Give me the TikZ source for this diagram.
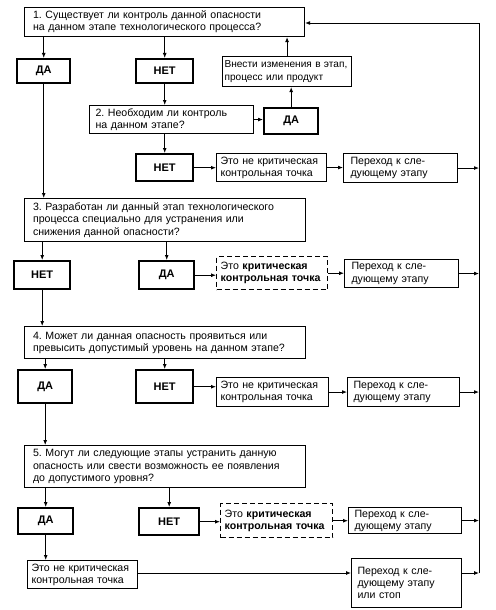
\documentclass[tikz,border=0pt]{standalone}
\usepackage{fontspec}
\setmainfont{Liberation Sans}
\usetikzlibrary{arrows.meta}
\frenchspacing
\begin{document}
\begin{tikzpicture}[x=1pt,y=-1pt,
  every node/.style={font=\fontsize{10.6}{12.2}\selectfont},
  lbox/.style={draw, line width=1.1pt, anchor=north west, align=left, inner xsep=5pt, inner ysep=0pt},
  qbox/.style={lbox, inner xsep=8.5pt},
  dbox/.style={lbox, dash pattern=on 5pt off 3pt, line width=1.4pt},
  tbox/.style={draw, line width=2.4pt, anchor=north west, align=center, inner sep=0pt, font=\fontsize{11}{12.5}\selectfont\bfseries},
  arr/.style={line width=0.9pt, -{Latex[length=5pt,width=4pt]}},
]
\useasboundingbox (0,0) rectangle (495,610);
% row 1
\node[qbox, minimum width=280pt, minimum height=29pt, text width=263pt] (b1) at (24,7) {1. Существует ли контроль данной опасности\\на данном этапе технологического процесса?};
\node[tbox, minimum width=53pt, minimum height=24pt] (da1) at (16,58) {ДА};
\node[tbox, minimum width=57pt, minimum height=24pt] (net1) at (135,58) {НЕТ};
\node[lbox, minimum width=129pt, minimum height=30pt, text width=125pt, inner xsep=2pt, font=\fontsize{10.1}{12.2}\selectfont] (vn) at (222,56) {\mbox{Внести изменения в этап,}\\процесс или продукт};
\node[lbox, minimum width=164pt, minimum height=28pt, text width=152pt, inner xsep=6pt] (b2) at (89,105) {2. Необходим ли контроль\\на данном этапе?};
\node[tbox, minimum width=54pt, minimum height=26pt] (da2) at (263,107) {ДА};
\node[tbox, minimum width=57pt, minimum height=27pt] (net2) at (135,153) {НЕТ};
\node[lbox, minimum width=110pt, minimum height=28pt, text width=102pt, inner xsep=4pt] (ne1) at (216,153) {Это не критическая\\контрольная точка};
\node[lbox, minimum width=114pt, minimum height=29pt, text width=100pt, inner xsep=7pt] (p1) at (343,153) {Переход к сле-\\дующему этапу};
% row 3
\node[qbox, minimum width=281pt, minimum height=43pt, text width=264pt] (b3) at (24,198) {3. Разработан ли данный этап технологического\\процесса специально для устранения или\\снижения данной опасности?};
\node[tbox, minimum width=56pt, minimum height=28pt] (net3) at (13,260) {НЕТ};
\node[tbox, minimum width=55pt, minimum height=28pt] (da3) at (138,260) {ДА};
\node[dbox, minimum width=111pt, minimum height=33pt, text width=103pt, inner xsep=4pt] (cr1) at (216,256) {Это \textbf{критическая}\\\textbf{контрольная точка}};
\node[lbox, minimum width=114pt, minimum height=28pt, text width=100pt, inner xsep=7pt] (p2) at (344,259) {Переход к сле-\\дующему этапу};
% row 4
\node[qbox, minimum width=281pt, minimum height=32pt, text width=264pt] (b4) at (24,326) {4. Может ли данная опасность проявиться или\\превысить допустимый уровень на данном этапе?};
\node[tbox, minimum width=54pt, minimum height=33pt] (da4) at (17,369) {ДА};
\node[tbox, minimum width=57pt, minimum height=33pt] (net4) at (135,369) {НЕТ};
\node[lbox, minimum width=112pt, minimum height=29pt, text width=104pt, inner xsep=4pt] (ne2) at (216,377) {Это не критическая\\контрольная точка};
\node[lbox, minimum width=112pt, minimum height=29pt, text width=100pt, inner xsep=6pt] (p3) at (347,377) {Переход к сле-\\дующему этапу};
% row 5
\node[qbox, minimum width=281pt, minimum height=42pt, text width=264pt] (b5) at (24,445) {5. Могут ли следующие этапы устранить данную\\опасность или свести возможность ее появления\\до допустимого уровня?};
\node[tbox, minimum width=55pt, minimum height=26pt] (da5) at (17,507) {ДА};
\node[tbox, minimum width=60pt, minimum height=27pt] (net5) at (138,507) {НЕТ};
\node[dbox, minimum width=112pt, minimum height=34pt, text width=104pt, inner xsep=4pt] (cr2) at (220,503) {Это \textbf{критическая}\\\textbf{контрольная точка}};
\node[lbox, minimum width=113pt, minimum height=26pt, text width=101pt, inner xsep=6pt] (p4) at (348,507) {Переход к сле-\\дующему этапу};
\node[lbox, minimum width=110pt, minimum height=28pt, text width=102pt, inner xsep=4pt] (ne3) at (27,560) {Это не критическая\\контрольная точка};
\node[lbox, minimum width=110pt, minimum height=49pt, text width=98pt, inner xsep=6pt] (p5) at (351,558) {Переход к сле-\\дующему этапу\\или стоп};
% right line coordinates
\coordinate (rt) at (479,23);
\coordinate (rb) at (479,573);
% connectors
\draw[arr] (b1.south -| da1.north) -- (da1.north);
\draw[arr] (b1.south -| net1.north) -- (net1.north);
\draw[arr] (net1.south) -- (net1.south |- b2.north);
\draw[arr] (b2.east) -- (b2.east -| da2.west);
\draw[arr] (da2.north) -- (da2.north |- vn.south);
\draw[arr] (vn.north) -- (vn.north |- b1.south);
\draw[arr] (net1.south |- b2.south) -- (net2.north);
\draw[arr] (net2.east) -- (net2.east -| ne1.west);
\draw[arr] (ne1.east) -- (ne1.east -| p1.west);
\draw[arr] (p1.east) -- (p1.east -| rt);
\draw[arr] (da1.south) -- (da1.south |- b3.north);
\draw[arr] (b3.south -| net3.north) -- (net3.north);
\draw[arr] (b3.south -| da3.north) -- (da3.north);
\draw[arr] (da3.east) -- (da3.east -| cr1.west);
\draw[arr] (cr1.east) -- (cr1.east -| p2.west);
\draw[arr] (p2.east) -- (p2.east -| rt);
\draw[arr] (net3.south) -- (net3.south |- b4.north);
\draw[arr] (b4.south -| da4.north) -- (da4.north);
\draw[arr] (b4.south -| net4.north) -- (net4.north);
\draw[arr] (net4.east) -- (net4.east -| ne2.west);
\draw[arr] (ne2.east) -- (ne2.east -| p3.west);
\draw[arr] (p3.east) -- (p3.east -| rt);
\draw[arr] (da4.south) -- (da4.south |- b5.north);
\draw[arr] (b5.south -| da5.north) -- (da5.north);
\draw[arr] (b5.south -| net5.north) -- (net5.north);
\draw[arr] (net5.east) -- (net5.east -| cr2.west);
\draw[arr] (cr2.east) -- (cr2.east -| p4.west);
\draw[arr] (p4.east) -- (p4.east -| rt);
\draw[arr] (da5.south) -- (da5.south |- ne3.north);
\draw[arr] (ne3.east |- rb) -- (rb -| p5.west);
\draw[arr] (p5.east |- rb) -- (rb);
\draw[arr] (rb) -- (rt) -- (rt -| b1.east);
\end{tikzpicture}
\end{document}
